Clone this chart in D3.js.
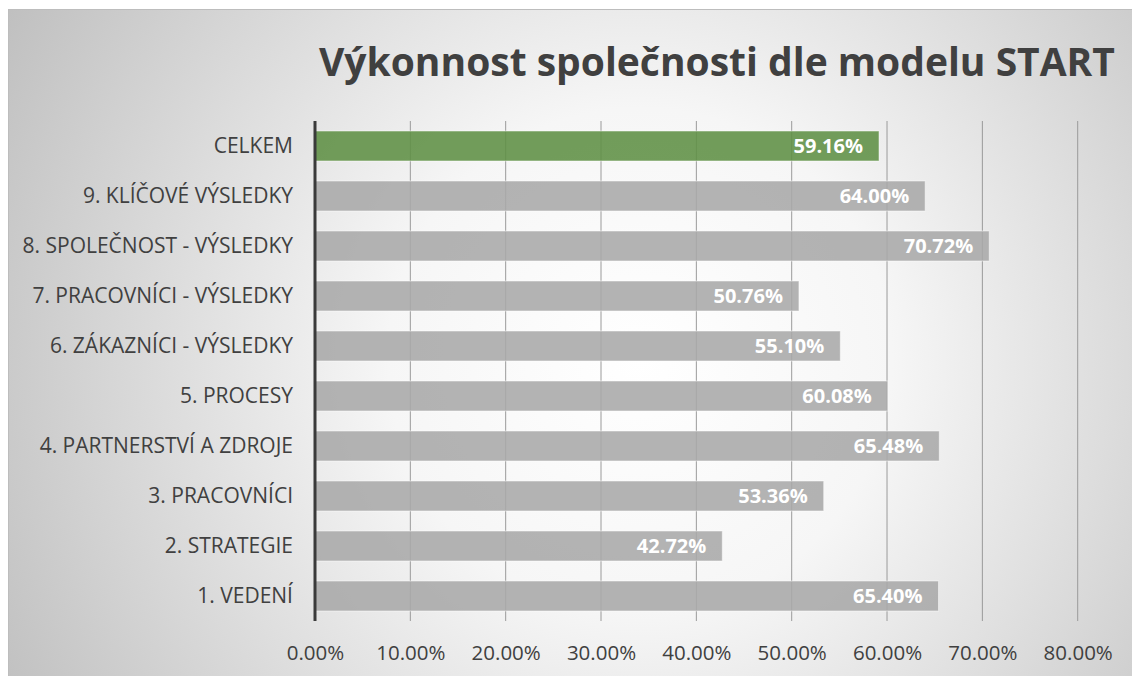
<!DOCTYPE html>
<html>
<head>
<meta charset="utf-8">
<script src="https://cdn.jsdelivr.net/npm/d3@7"></script>
<style>
  body { margin: 0; background: #fff; }
  svg { display: block; font-family: "Open Sans", "Noto Sans", sans-serif; }
</style>
</head>
<body>
<svg id="chart" width="1132" height="676"></svg>
<script>
// categories from top to bottom, as shown
var categories = ["CELKEM", "9. KLÍČOVÉ VÝSLEDKY", "8. SPOLEČNOST - VÝSLEDKY",
    "7. PRACOVNÍCI - VÝSLEDKY", "6. ZÁKAZNÍCI - VÝSLEDKY", "5. PROCESY",
    "4. PARTNERSTVÍ A ZDROJE", "3. PRACOVNÍCI", "2. STRATEGIE", "1. VEDENÍ"];
var values = [59.16, 64.00, 70.72, 50.76, 55.10, 60.08, 65.48, 53.36, 42.72, 65.40];
var tickValues = [0, 10, 20, 30, 40, 50, 60, 70, 80];
var title = "Výkonnost společnosti dle modelu START";

var fontStack = "'Open Sans', 'Noto Sans', sans-serif";

var svg = d3.select("#chart");
const width = +svg.attr("width"), height = +svg.attr("height");

// background with radial gradient
var defs = svg.append("defs");
var grad = defs.append("radialGradient")
    .attr("id", "bg")
    .attr("gradientUnits", "userSpaceOnUse")
    .attr("cx", 640).attr("cy", 360).attr("r", 720);
grad.append("stop").attr("offset", "0%").attr("stop-color", "#ffffff");
grad.append("stop").attr("offset", "35%").attr("stop-color", "#f6f6f6");
grad.append("stop").attr("offset", "100%").attr("stop-color", "#c0c0c0");

svg.append("rect")
    .attr("x", 8.5).attr("y", 9.5)
    .attr("width", width).attr("height", height)
    .attr("fill", "url(#bg)")
    .attr("stroke", "#bdbdbd")
    .attr("stroke-width", 1);

var x = d3.scaleLinear().domain([0, 80]).range([315, 1077.7]);
var y = d3.scaleBand().domain(categories)
    .range([121, 621]).paddingInner(0.4).paddingOuter(0.2);

// title, reaching right up to the edge like the original
svg.append("text")
    .attr("x", 319).attr("y", 76)
    .attr("fill", "#404040")
    .style("font-size", "39px")
    .style("font-weight", "bold")
    .text(title);

// gridlines
svg.append("g")
    .selectAll("line")
    .data(tickValues.slice(1))
    .enter().append("line")
    .attr("x1", d => x(d)).attr("x2", d => x(d))
    .attr("y1", 121).attr("y2", 621)
    .attr("stroke", "#9a9a9a")
    .attr("stroke-width", 1);

// bars
var colors = categories.map((c, i) => i === 0 ? "#5f8f44" : "#a8a8a8");
svg.append("g")
    .selectAll("rect")
    .data(values)
    .enter().append("rect")
    .attr("x", x(0))
    .attr("y", (d, i) => y(categories[i]))
    .attr("width", d => x(d) - x(0))
    .attr("height", y.bandwidth())
    .attr("fill", (d, i) => colors[i])
    .attr("fill-opacity", 0.88)
    .attr("stroke", "#ffffff")
    .attr("stroke-opacity", 0.5)
    .attr("stroke-width", 1);

// value labels
svg.append("g")
    .selectAll("text")
    .data(values)
    .enter().append("text")
    .attr("x", d => x(d) - 16)
    .attr("y", (d, i) => y(categories[i]) + y.bandwidth() / 2)
    .attr("dy", "0.36em")
    .attr("text-anchor", "end")
    .attr("fill", "#ffffff")
    .style("font-size", "20px")
    .style("font-weight", "bold")
    .text(d => d.toFixed(2) + "%");

// category axis
var yAxis = svg.append("g")
    .attr("transform", "translate(" + x(0) + ",0)")
    .call(d3.axisLeft(y).tickSize(0).tickPadding(22));
yAxis.select(".domain").remove();
yAxis.selectAll("text")
    .attr("fill", "#404040")
    .style("font-size", "21px")
    .style("font-family", fontStack);

// vertical axis line
svg.append("line")
    .attr("x1", x(0)).attr("x2", x(0))
    .attr("y1", 121).attr("y2", 621)
    .attr("stroke", "#3a3a3a")
    .attr("stroke-width", 3);

// value axis
var xAxis = svg.append("g")
    .attr("transform", "translate(0,621)")
    .call(d3.axisBottom(x).tickValues(tickValues).tickSize(0).tickPadding(24)
        .tickFormat(d => d.toFixed(2) + "%"));
xAxis.select(".domain").remove();
xAxis.selectAll("text")
    .attr("fill", "#404040")
    .style("font-size", "20.5px")
    .style("font-family", fontStack);
</script>
</body>
</html>
